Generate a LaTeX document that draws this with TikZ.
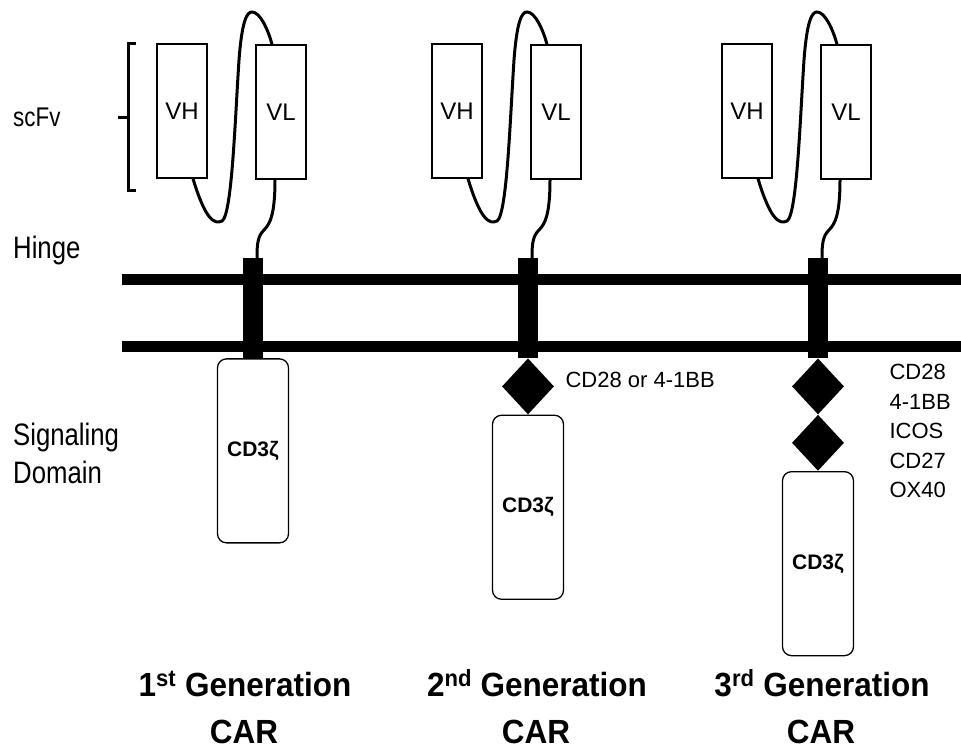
\documentclass[tikz,border=0pt]{standalone}
\usepackage{fontspec}
\setmainfont{Liberation Sans}
\newfontfamily\narrowsf{Liberation Sans}[FakeStretch=0.83]
\newfontfamily\gensf{Liberation Sans}[FakeStretch=0.94]
\usetikzlibrary{shapes.geometric,positioning}

\begin{document}
\begin{tikzpicture}[x=1pt, y=-1pt,
		vbox/.style={draw, line width=1.3pt, minimum width=50pt, minimum height=134pt, inner sep=0pt, font=\fontsize{24}{28}\selectfont},
		tmseg/.style={fill=black, minimum width=20pt, minimum height=100pt, inner sep=0pt},
		cdbox/.style={draw, line width=1.3pt, rounded corners=9pt, minimum width=71pt, minimum height=184pt, inner sep=0pt, font=\bfseries\fontsize{21}{24}\selectfont},
		costim/.style={diamond, fill=black, minimum width=52pt, minimum height=56pt, inner sep=0pt},
		sidelbl/.style={anchor=west, align=left, inner sep=0pt, font=\narrowsf\fontsize{31}{38}\selectfont},
		costlbl/.style={anchor=west, align=left, font=\fontsize{22}{29.5}\selectfont},
		genlbl/.style={anchor=base, inner sep=0pt, font=\gensf\bfseries\fontsize{33.5}{40}\selectfont},
		chain/.style={line width=3pt}]
		\useasboundingbox (0,0) rectangle (961,750);
		\draw[line width=11pt] (122,279) -- (961,279);
		\draw[line width=11pt] (122,346) -- (961,346);
		\draw[line width=3pt] (136,43) -- (128,43) -- (128,190) -- (136,190);
		\draw[line width=3pt] (118,117) -- (128,117);
		\node[sidelbl, font=\narrowsf\fontsize{27}{32}\selectfont] (scfv) at (13,117) {scFv};
		\node[sidelbl] (hinge) at (13,250) {Hinge};
		\node[sidelbl] (sigdom) at (13,453) {Signaling\\Domain};
		% VH, VL, линкер и трансмембранный участок для каждого поколения
		\foreach \g/\d in {1/0,2/275,3/565}{
			\node[vbox] (vh\g) at (182+\d,111) {VH};
			\node[vbox] (vl\g) at (281+\d,112) {VL};
			\node[tmseg] (tm\g) at (253+\d,308) {};
			\draw[chain] ([xshift=11pt]vh\g.south) .. controls +(12,40) and +(-8,4) .. (222+\d,221)
				.. controls +(10,-6) and +(-4,60) .. (239+\d,60)
				.. controls +(3,-40) and +(-5,0) .. (252+\d,12)
				.. controls +(8,0) and +(-4,-15) .. ([xshift=-9pt]vl\g.north);
			\draw[chain] ([xshift=-6pt]vl\g.south) .. controls +(0,35) and +(6,-6) .. (264+\d,230)
				.. controls +(-6,6) and +(0,-15) .. ([xshift=4pt]tm\g.north);
		}
		\node[cdbox, below=0pt of tm1] (cd1) {CD3ζ};
		\node[costim, below=0pt of tm2] (co2) {};
		\node[cdbox, below=0pt of co2] (cd2) {CD3ζ};
		\node[costim, below=0pt of tm3] (co3a) {};
		\node[costim, below=0pt of co3a] (co3b) {};
		\node[cdbox, below=0pt of co3b] (cd3) {CD3ζ};
		\node[costlbl] (cl2) at (562,380) {CD28 or 4-1BB};
		\node[costlbl] (cl3) at (886,431) {CD28\\4-1BB\\ICOS\\CD27\\OX40};
		\foreach \g/\s/\xc in {1/st/245,2/nd/537,3/rd/822}{
			\node[genlbl] (gen\g) at (\xc,696) {\g\textsuperscript{\s} Generation};
			\node[genlbl] (car\g) at (\xc-1,743) {CAR};
		}
	\end{tikzpicture}
\end{document}
